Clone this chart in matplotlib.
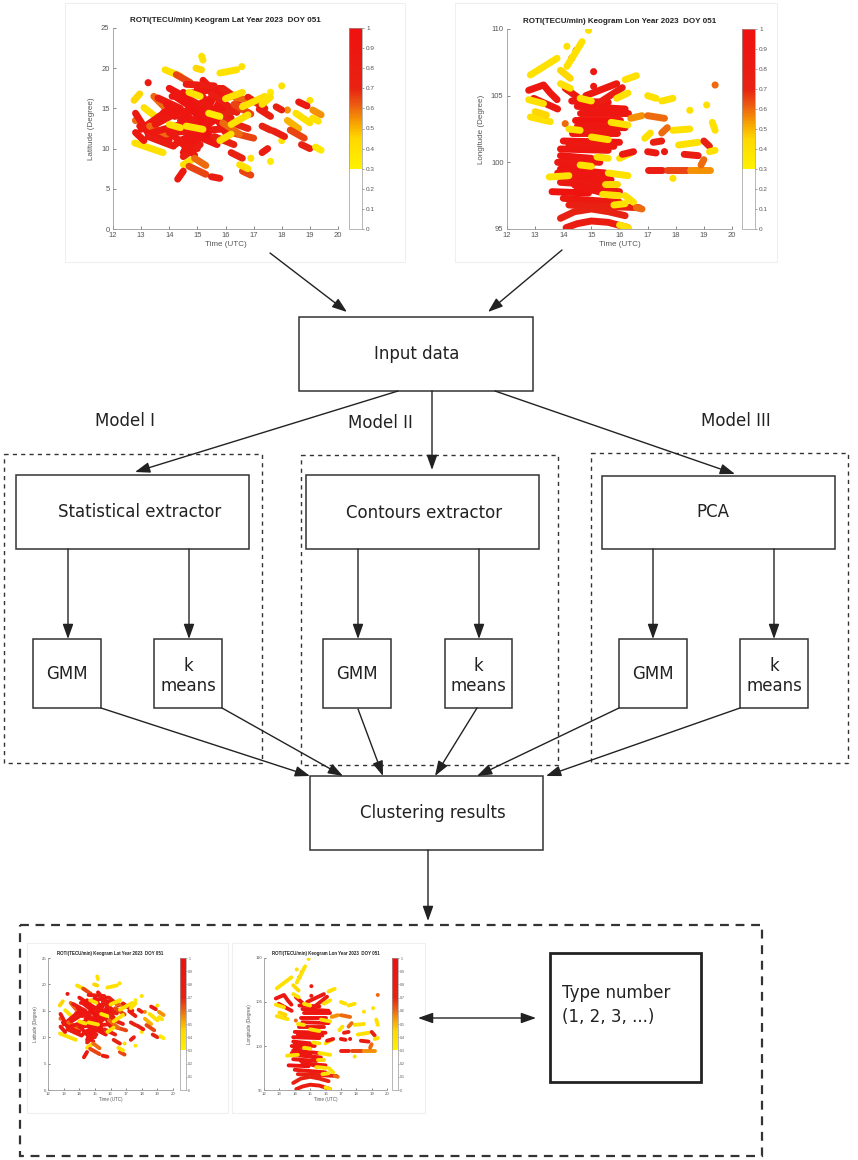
import numpy as np
import matplotlib.pyplot as plt
from matplotlib.patches import Rectangle
from matplotlib.collections import LineCollection
from matplotlib.colors import LinearSegmentedColormap, Normalize
from matplotlib.cm import ScalarMappable

# ROTI keogram tracks: (time vertices, position vertices, ROTI value)
lat_tracks = [
    ((12.77, 13.78), (10.7, 9.5), 0.40),
    ((12.75, 12.95), (16.0, 16.8), 0.45),
    ((12.8, 13.25), (14.4, 11.9), 0.85),
    ((13.1, 13.65), (15.1, 13.6), 0.40),
    ((12.95, 14.0), (12.8, 11.1), 0.90),
    ((13.25, 14.15), (11.5, 10.3), 0.80),
    ((13.45, 13.9), (16.5, 14.9), 0.60),
    ((13.0, 14.0), (12.4, 14.9), 0.85),
    ((13.3, 13.9), (12.8, 11.8), 0.60),
    ((13.85, 14.4), (19.8, 19.0), 0.40),
    ((15.15, 15.2), (21.5, 21.0), 0.40),
    ((14.95, 15.15), (20.0, 19.8), 0.45),
    ((14.25, 14.75), (19.2, 18.2), 0.65),
    ((15.8, 16.4), (19.4, 19.8), 0.40),
    ((12.8, 13.1), (12.0, 11.0), 0.85),
    ((13.6, 14.4), (16.3, 15.0), 0.80),
    ((13.5, 14.3), (13.0, 14.5), 0.85),
    ((13.4, 14.6), (12.0, 13.2), 0.85),
    ((14.0, 15.3), (17.5, 15.0), 0.90),
    ((14.2, 15.5), (16.5, 13.5), 0.95),
    ((14.3, 15.4), (15.0, 12.0), 0.90),
    ((14.4, 15.0), (13.5, 10.0), 0.90),
    ((14.2, 15.6), (10.5, 13.5), 0.85),
    ((14.5, 15.6), (9.5, 16.5), 0.90),
    ((14.8, 15.9), (10.0, 15.5), 0.90),
    ((15.0, 16.0), (17.5, 12.0), 0.90),
    ((15.2, 15.9), (18.5, 16.0), 0.85),
    ((14.0, 16.2), (12.0, 12.5), 0.85),
    ((13.8, 16.1), (14.5, 14.8), 0.90),
    ((14.1, 15.8), (16.5, 17.5), 0.90),
    ((14.6, 15.6), (18.0, 17.8), 0.80),
    ((14.3, 15.2), (11.0, 11.5), 0.90),
    ((14.5, 15.1), (9.0, 10.5), 0.80),
    ((14.2, 15.8), (14.0, 16.8), 0.90),
    ((14.5, 15.5), (17.0, 11.0), 0.95),
    ((13.9, 15.0), (15.5, 12.5), 0.90),
    ((15.2, 16.2), (15.5, 13.8), 0.85),
    ((14.7, 15.7), (12.0, 10.5), 0.90),
    ((14.1, 14.9), (11.8, 9.2), 0.85),
    ((15.3, 16.0), (13.0, 17.0), 0.90),
    ((15.6, 16.3), (11.5, 10.5), 0.70),
    ((15.5, 16.4), (16.8, 14.5), 0.80),
    ((15.9, 16.5), (17.5, 16.0), 0.75),
    ((16.0, 16.8), (13.5, 12.5), 0.70),
    ((16.2, 17.0), (12.0, 11.3), 0.65),
    ((15.7, 16.6), (14.0, 15.0), 0.70),
    ((15.9, 16.5), (13.2, 11.8), 0.60),
    ((16.3, 16.9), (15.5, 14.3), 0.65),
    ((16.4, 17.2), (16.3, 15.8), 0.60),
    ((16.8, 17.4), (16.4, 15.0), 0.75),
    ((17.2, 17.6), (14.9, 14.0), 0.80),
    ((14.6, 15.2), (12.8, 12.4), 0.40),
    ((14.7, 15.1), (17.0, 16.5), 0.40),
    ((15.4, 15.8), (14.4, 14.0), 0.35),
    ((14.0, 14.4), (13.0, 12.6), 0.40),
    ((16.0, 16.6), (16.2, 17.0), 0.40),
    ((16.2, 16.8), (13.0, 14.2), 0.40),
    ((15.8, 16.2), (11.0, 11.8), 0.40),
    ((14.5, 14.8), (8.0, 8.6), 0.40),
    ((16.6, 17.4), (15.2, 16.5), 0.40),
    ((14.3, 14.5), (6.2, 7.2), 0.85),
    ((14.7, 15.3), (7.8, 6.8), 0.65),
    ((15.5, 15.8), (6.5, 6.3), 0.80),
    ((14.9, 15.3), (8.8, 7.9), 0.60),
    ((16.2, 16.6), (9.5, 8.8), 0.70),
    ((16.6, 16.9), (7.2, 6.7), 0.65),
    ((16.5, 16.8), (8.0, 7.5), 0.40),
    ((17.3, 17.5), (9.5, 10.0), 0.80),
    ((17.8, 18.0), (15.2, 14.8), 0.75),
    ((17.7, 18.1), (12.2, 11.5), 0.80),
    ((18.2, 18.6), (13.5, 12.5), 0.50),
    ((18.3, 18.8), (12.3, 11.3), 0.65),
    ((18.7, 19.0), (10.5, 10.0), 0.70),
    ((19.2, 19.4), (10.2, 9.8), 0.35),
    ((18.6, 18.9), (15.8, 15.3), 0.85),
    ((18.5, 19.0), (14.4, 13.2), 0.40),
    ((19.1, 19.4), (14.8, 14.2), 0.55),
    ((19.1, 19.3), (13.8, 13.4), 0.40),
    ((17.3, 17.6), (12.8, 12.3), 0.70),
    ((17.3, 17.6), (15.5, 16.4), 0.40),
]
lat_dot_t = [13.25, 16.58, 16.9, 17.6, 18.0, 18.0, 19.0, 17.6, 18.2, 12.8]
lat_dot_y = [18.2, 20.2, 8.8, 8.4, 17.8, 11.0, 16.0, 17.0, 14.8, 13.5]
lat_dot_v = [0.85, 0.40, 0.40, 0.35, 0.40, 0.40, 0.40, 0.35, 0.55, 0.60]

lon_tracks = [
    ((12.83, 13.78), (106.55, 107.8), 0.40),
    ((14.13, 14.67), (107.2, 109.05), 0.40),
    ((13.9, 14.25), (106.9, 106.3), 0.45),
    ((12.77, 13.3, 13.54, 13.78), (105.4, 105.8, 105.2, 104.7), 0.90),
    ((12.95, 13.8), (104.8, 104.0), 0.85),
    ((12.77, 13.3), (104.7, 104.4), 0.40),
    ((12.83, 13.54), (103.4, 103.05), 0.40),
    ((13.0, 13.4), (103.8, 103.55), 0.45),
    ((14.07, 14.5), (105.55, 104.9), 0.85),
    ((13.9, 14.25), (105.9, 105.55), 0.40),
    ((14.5, 16.2), (104.2, 104.0), 0.90),
    ((14.3, 15.6), (104.6, 104.5), 0.90),
    ((14.6, 16.3), (103.7, 103.7), 0.90),
    ((14.4, 16.0), (103.2, 103.2), 0.95),
    ((14.5, 16.2), (102.7, 102.6), 0.90),
    ((14.3, 15.9), (102.2, 102.2), 0.85),
    ((14.0, 16.0), (101.6, 101.5), 0.90),
    ((14.2, 15.8), (101.3, 101.2), 0.85),
    ((13.9, 15.6), (101.0, 100.9), 0.90),
    ((14.8, 15.9), (105.0, 105.9), 0.85),
    ((15.3, 16.1), (104.5, 105.6), 0.80),
    ((13.9, 15.0), (100.5, 100.3), 0.90),
    ((14.0, 15.3), (100.2, 100.0), 0.90),
    ((13.8, 15.0), (100.0, 99.8), 0.85),
    ((13.9, 15.5), (99.5, 99.2), 0.90),
    ((13.8, 15.0), (99.2, 99.0), 0.90),
    ((13.8, 15.7), (99.0, 98.7), 0.90),
    ((13.9, 15.4), (98.5, 98.3), 0.85),
    ((14.5, 16.0), (98.0, 97.8), 0.85),
    ((13.6, 14.9), (97.8, 97.7), 0.95),
    ((14.0, 16.0), (97.3, 97.0), 0.85),
    ((14.2, 16.7), (96.8, 96.6), 0.75),
    ((13.9, 14.4, 15.0, 15.6, 16.2), (95.8, 96.3, 96.5, 96.3, 96.0), 0.70),
    ((14.1, 14.5, 15.0, 15.6, 16.3), (95.1, 95.4, 95.6, 95.5, 95.1), 0.80),
    ((14.0, 15.2), (99.8, 98.7), 0.90),
    ((14.4, 15.6), (98.3, 97.6), 0.90),
    ((13.5, 14.2), (98.9, 99.0), 0.40),
    ((14.2, 14.6), (102.5, 102.4), 0.40),
    ((15.2, 15.6), (100.4, 100.3), 0.40),
    ((14.6, 15.0), (99.8, 99.7), 0.40),
    ((15.5, 15.9), (98.4, 98.4), 0.45),
    ((15.0, 15.6), (101.9, 101.7), 0.40),
    ((15.7, 16.3), (103.0, 102.8), 0.40),
    ((15.9, 16.3), (104.8, 105.2), 0.40),
    ((16.0, 16.4), (100.3, 100.7), 0.40),
    ((15.6, 16.3), (99.2, 99.0), 0.40),
    ((15.4, 16.0), (97.6, 97.5), 0.40),
    ((15.8, 16.2), (96.8, 96.9), 0.40),
    ((14.6, 15.0), (104.8, 104.6), 0.40),
    ((16.4, 16.8), (103.3, 103.5), 0.55),
    ((16.2, 16.6), (106.2, 106.5), 0.40),
    ((16.1, 16.5), (100.6, 100.8), 0.85),
    ((17.0, 17.3), (100.8, 100.7), 0.85),
    ((17.0, 17.5), (99.4, 99.4), 0.80),
    ((17.7, 18.4), (99.4, 99.4), 0.65),
    ((18.5, 19.2), (99.4, 99.4), 0.55),
    ((18.3, 18.8), (100.6, 100.5), 0.80),
    ((18.9, 19.0), (99.8, 100.2), 0.60),
    ((18.1, 18.8), (101.3, 101.5), 0.40),
    ((19.0, 19.2), (101.6, 101.2), 0.70),
    ((19.2, 19.4), (100.8, 100.9), 0.40),
    ((19.3, 19.4), (103.0, 102.4), 0.40),
    ((17.9, 18.5), (102.4, 102.5), 0.40),
    ((17.0, 17.3), (105.0, 104.8), 0.40),
    ((17.5, 17.9), (104.6, 104.8), 0.40),
    ((17.0, 17.6), (103.5, 103.3), 0.60),
    ((17.5, 17.7), (102.2, 102.6), 0.60),
    ((17.2, 17.5), (101.5, 101.6), 0.75),
    ((16.2, 16.5), (97.5, 97.0), 0.40),
    ((16.6, 16.8), (96.6, 96.5), 0.60),
    ((16.0, 16.3), (95.3, 95.1), 0.40),
    ((16.9, 17.1), (101.8, 102.2), 0.40),
]
lon_dot_t = [14.9, 14.13, 14.46, 14.3, 15.08, 15.08, 13.36, 14.07, 17.6, 17.9, 19.4, 19.1, 18.5]
lon_dot_y = [109.9, 108.7, 108.4, 107.8, 106.8, 105.7, 103.2, 102.9, 100.8, 98.8, 105.8, 104.3, 103.9]
lon_dot_v = [0.40, 0.40, 0.60, 0.75, 0.85, 0.85, 0.60, 0.60, 0.85, 0.40, 0.60, 0.40, 0.40]

lat_ticks = [0, 5, 10, 15, 20, 25]
lon_ticks = [95, 100, 105, 110]
time_ticks = [12, 13, 14, 15, 16, 17, 18, 19, 20]
cbar_ticks = [0, 0.1, 0.2, 0.3, 0.4, 0.5, 0.6, 0.7, 0.8, 0.9, 1]

W, H = 858, 1160
plt.rcParams['font.family'] = ['Liberation Sans', 'DejaVu Sans']
fig = plt.figure(figsize=(W / 100, H / 100), dpi=100)
ax = fig.add_axes([0, 0, 1, 1])
ax.set_xlim(0, W)
ax.set_ylim(H, 0)
ax.axis('off')

# white below 0.3, then yellow -> orange -> red
roti_cmap = LinearSegmentedColormap.from_list('roti', [
    (0.0, '#ffffff'), (0.299, '#ffffff'), (0.30, '#fff200'), (0.45, '#ffd800'),
    (0.52, '#f8a800'), (0.62, '#ec5a12'), (0.70, '#e82212'), (1.0, '#f01010')])
norm = Normalize(0, 1)


def fbox(x0, y0, x1, y1):
    return [x0 / W, 1 - y1 / H, (x1 - x0) / W, (y1 - y0) / H]


def keogram(box, cbox, tracks, dt, dy, dv, ylim, yticks, ylabel, title, s=1.0):
    k = fig.add_axes(fbox(*box))
    segs = [list(zip(t, y)) for t, y, v in tracks]
    lc = LineCollection(segs, cmap=roti_cmap, norm=norm, linewidths=5.0 * s,
                        capstyle='round', joinstyle='round')
    lc.set_array(np.array([v for t, y, v in tracks]))
    k.add_collection(lc)
    k.scatter(dt, dy, c=dv, cmap=roti_cmap, norm=norm, s=26 * s * s,
              edgecolors='none')
    k.set_xlim(12, 20)
    k.set_ylim(*ylim)
    k.set_xticks(time_ticks)
    k.set_yticks(yticks)
    for sp in ['top', 'right']:
        k.spines[sp].set_visible(False)
    for sp in ['left', 'bottom']:
        k.spines[sp].set_color('#9a9a9a')
        k.spines[sp].set_linewidth(0.6)
    k.tick_params(labelsize=5.5 * s, colors='#555555', direction='in',
                  length=2 * s, width=0.5, pad=2.5 * s)
    k.set_xlabel('Time (UTC)', fontsize=5.8 * s, color='#555555', labelpad=1 * s)
    k.set_ylabel(ylabel, fontsize=5.8 * s, color='#555555', labelpad=4 * s)
    k.set_title(title, fontsize=5.8 * s, fontweight='bold', color='#222222', pad=4 * s)

    c = fig.add_axes(fbox(*cbox))
    cb = fig.colorbar(ScalarMappable(norm=norm, cmap=roti_cmap), cax=c, ticks=cbar_ticks)
    cb.ax.set_yticklabels([f'{t:g}' for t in cbar_ticks])
    cb.outline.set_edgecolor('#9a9a9a')
    cb.outline.set_linewidth(0.5)
    c.tick_params(labelsize=4.6 * s, colors='#555555', length=1.5 * s,
                  width=0.4, pad=1.5 * s)


lat_title = 'ROTI(TECU/min) Keogram Lat Year 2023  DOY 051'
lon_title = 'ROTI(TECU/min) Keogram Lon Year 2023  DOY 051'

# faint frames of the embedded keogram images
for x0, y0, x1, y1 in [(65, 3, 405, 262), (455, 3, 777, 262),
                       (27, 943, 228, 1113), (232, 943, 425, 1113)]:
    ax.add_patch(Rectangle((x0, y0), x1 - x0, y1 - y0, fill=False,
                           ec='#efefef', lw=0.8))

keogram((113, 28, 338, 229), (349, 28, 362, 229), lat_tracks,
        lat_dot_t, lat_dot_y, lat_dot_v, (0, 25), lat_ticks,
        'Latitude (Degree)', lat_title)
keogram((507, 29, 732, 229), (742, 29, 755, 229), lon_tracks,
        lon_dot_t, lon_dot_y, lon_dot_v, (95, 110), lon_ticks,
        'Longitude (Degree)', lon_title)
keogram((48, 958, 173, 1090), (180, 958, 186, 1090), lat_tracks,
        lat_dot_t, lat_dot_y, lat_dot_v, (0, 25), lat_ticks,
        'Latitude (Degree)', lat_title, s=0.56)
keogram((264, 958, 387, 1090), (392, 958, 398, 1090), lon_tracks,
        lon_dot_t, lon_dot_y, lon_dot_v, (95, 110), lon_ticks,
        'Longitude (Degree)', lon_title, s=0.56)

# flowchart
EDGE = '#333333'
FS = 12


def box(x0, y0, x1, y1, lw=1.1, ls='-', ec=EDGE):
    ax.add_patch(Rectangle((x0, y0), x1 - x0, y1 - y0, fill=False, ec=ec,
                           lw=lw, ls=ls))


def arrow(x0, y0, x1, y1, style='-|>'):
    ax.annotate('', xy=(x1, y1), xytext=(x0, y0),
                arrowprops=dict(arrowstyle=f'{style},head_length=0.9,head_width=0.32',
                                color='#222222', lw=1.0, shrinkA=0, shrinkB=0))


def label(x, y, s, **kw):
    ax.text(x, y, s, ha='center', va='center', fontsize=FS, color='#222222',
            family='DejaVu Sans', **kw)


arrow(270, 253, 347, 312)
arrow(562, 250, 488, 312)
box(299, 317, 533, 391)
label(417, 354, 'Input data')

label(125, 421, 'Model I')
label(380, 423, 'Model II')
label(736, 421, 'Model III')

box(4, 454, 262, 763, lw=1.0, ls=(0, (3, 3)))
box(301, 455, 558, 765, lw=1.0, ls=(0, (3, 3)))
box(591, 453, 848, 763, lw=1.0, ls=(0, (3, 3)))

arrow(398, 391, 135, 472)
arrow(432, 391, 432, 470)
arrow(495, 391, 735, 474)

box(16, 475, 249, 549)
label(140, 512, 'Statistical extractor')
box(306, 475, 539, 549)
label(424, 513, 'Contours extractor')
box(602, 476, 835, 549)
label(713, 512, 'PCA')

for x, y0 in [(68, 549), (189, 549), (358, 549), (479, 549), (653, 549), (774, 549)]:
    arrow(x, y0, x, 639)

for x0, x1 in [(33, 101), (154, 222), (323, 391), (445, 512), (619, 687), (740, 808)]:
    box(x0, 639, x1, 708)
    if x0 in (33, 323, 619):
        label((x0 + x1) / 2, 674, 'GMM')
    else:
        label((x0 + x1) / 2, 676, 'k\nmeans', linespacing=1.15)

arrow(101, 708, 310, 776)
arrow(222, 708, 343, 776)
arrow(358, 709, 383, 776)
arrow(477, 708, 435, 776)
arrow(619, 708, 477, 776)
arrow(740, 708, 546, 776)

box(310, 776, 543, 850)
label(433, 813, 'Clustering results')
arrow(428, 850, 428, 921)

box(20, 925, 762, 1156, lw=1.6, ls=(0, (4, 3)))
box(550, 953, 701, 1082, lw=2.0, ec='#222222')
ax.text(562, 1005, 'Type number\n(1, 2, 3, ...)', ha='left', va='center',
        fontsize=FS, color='#222222', family='DejaVu Sans', linespacing=1.45)
arrow(418, 1018, 536, 1018, style='<|-|>')

fig.savefig('out.png', dpi=100)
